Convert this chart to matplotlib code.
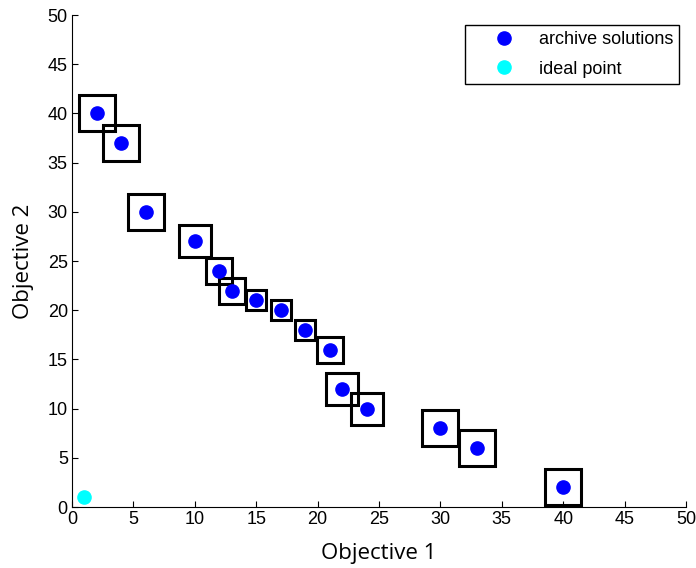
import matplotlib
matplotlib.use("Agg")
import matplotlib.pyplot as plt

# archive solutions
obj1 = [2, 4, 6, 10, 12, 13, 15, 17, 19, 21, 22, 24, 30, 33, 40]
obj2 = [40, 37, 30, 27, 24, 22, 21, 20, 18, 16, 12, 10, 8, 6, 2]
# ideal point
ideal_x = [1]
ideal_y = [1]
# box marker sizes (points)
box_size = [25.5, 25.5, 25.5, 22.5, 18.5, 18.5, 14.5, 15, 14.5, 18.5, 22.5, 23, 26, 26, 26]

xticks = [0, 5, 10, 15, 20, 25, 30, 35, 40, 45, 50]
yticks = [0, 5, 10, 15, 20, 25, 30, 35, 40, 45, 50]

fig = plt.figure(figsize=(6.96, 5.68), dpi=100)
ax = fig.add_axes([72/696, 1-507/568, (686-72)/696, (507-15)/568])

for x, y, s in zip(obj1, obj2, box_size):
    ax.plot([x], [y], marker='s', markersize=s, markerfacecolor='none',
            markeredgecolor='black', markeredgewidth=2.2, linestyle='none', zorder=2)

ax.plot(obj1, obj2, 'o', color='#0000ff', markersize=9.5, linestyle='none',
        label='archive solutions', zorder=3)
ax.plot(ideal_x, ideal_y, 'o', color='#00ffff', markersize=9.5, linestyle='none',
        label='ideal point', zorder=3)

ax.set_xlim(0, 50)
ax.set_ylim(0, 50)
ax.set_xticks(xticks)
ax.set_yticks(yticks)
ax.spines['top'].set_visible(False)
ax.spines['right'].set_visible(False)
for sp in ['left', 'bottom']:
    ax.spines[sp].set_linewidth(0.8)
ax.tick_params(direction='in', length=4, width=0.8, labelsize=13, pad=3)
for lab in ax.get_xticklabels() + ax.get_yticklabels():
    lab.set_family('Liberation Sans')

ax.set_xlabel('Objective 1', fontsize=16, family='Open Sans', labelpad=11)
ax.set_ylabel('Objective 2', fontsize=16, family='Open Sans', labelpad=10)

leg = ax.legend(loc='upper right', bbox_to_anchor=(0.989, 0.98), fancybox=False,
                edgecolor='black', framealpha=1, prop={'family': 'Liberation Sans', 'size': 13},
                handletextpad=0.05, borderpad=0.35, labelspacing=0.7, handlelength=3.7,
                borderaxespad=0)
leg.get_frame().set_linewidth(1.0)

fig.savefig('out.png', dpi=100)
